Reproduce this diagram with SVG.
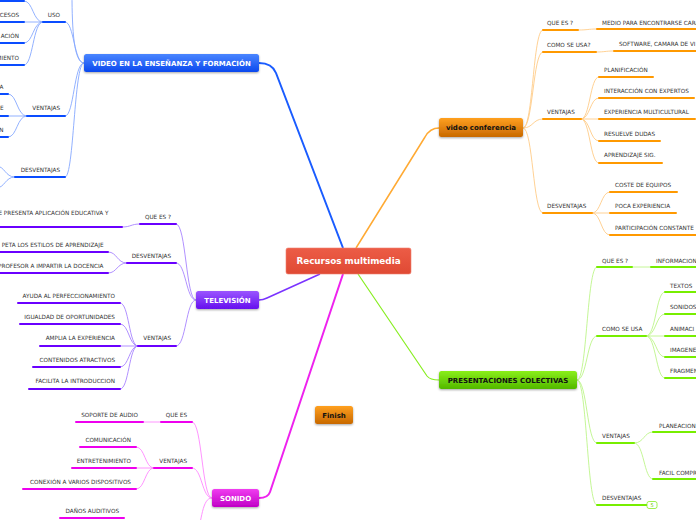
<svg xmlns="http://www.w3.org/2000/svg" width="696" height="520" viewBox="0 0 696 520">
<defs>
<linearGradient id="gBlue" x1="0" y1="0" x2="0" y2="1"><stop offset="0" stop-color="#4a86ff"/><stop offset="1" stop-color="#0c48ee"/></linearGradient>
<linearGradient id="gPurple" x1="0" y1="0" x2="0" y2="1"><stop offset="0" stop-color="#9a55ff"/><stop offset="1" stop-color="#6610ee"/></linearGradient>
<linearGradient id="gMag" x1="0" y1="0" x2="0" y2="1"><stop offset="0" stop-color="#f03ef0"/><stop offset="1" stop-color="#c000c6"/></linearGradient>
<linearGradient id="gGreen" x1="0" y1="0" x2="0" y2="1"><stop offset="0" stop-color="#8aef18"/><stop offset="1" stop-color="#52b800"/></linearGradient>
<linearGradient id="gOrange" x1="0" y1="0" x2="0" y2="1"><stop offset="0" stop-color="#ffa020"/><stop offset="1" stop-color="#c86800"/></linearGradient>
<linearGradient id="gRed" x1="0" y1="0" x2="0" y2="1"><stop offset="0" stop-color="#ec5c46"/><stop offset="1" stop-color="#e04a34"/></linearGradient>
<filter id="sh" x="-10%" y="-30%" width="120%" height="170%"><feDropShadow dx="0" dy="1" stdDeviation="0.8" flood-color="#000" flood-opacity="0.35"/></filter>
</defs>
<style>
.t{font-family:"DejaVu Sans","Liberation Sans",sans-serif;font-size:5.7px;fill:#333}
.e{text-anchor:end}
.n{font-family:"DejaVu Sans","Liberation Sans",sans-serif;font-weight:bold;font-size:7px;text-anchor:middle}
.w{fill:#fff}
.k{fill:#111}
.bar{fill:none;stroke-width:2;stroke-linecap:round}
.c{fill:none;stroke-width:0.9}
.bB{stroke:#0a4cff}.cB{stroke:#86a8ff}
.bO{stroke:#ff9900}.cO{stroke:#ffcc88}
.bP{stroke:#6a00ff}.cP{stroke:#a884ff}
.bM{stroke:#ee00ee}.cM{stroke:#ff88ff}
.bG{stroke:#77ee00}.cG{stroke:#bdf58a}
</style>
<rect width="696" height="520" fill="#fff"/>

<g id="connectors">
<path d="M259,63 Q272,63 276,73 L343,248" fill="none" stroke="#1a5cff" stroke-width="2"/>
<path d="M356,248 L425,137 Q430,128 439,128" fill="none" stroke="#ffaa33" stroke-width="1.5"/>
<path d="M320,274 L267,298 Q263,300 259,300" fill="none" stroke="#7a33ff" stroke-width="1.5"/>
<path d="M343,274 L270,492 Q268,498 259,498" fill="none" stroke="#ee22ee" stroke-width="2"/>
<path d="M358,274 L427,376 Q430,380 439,380" fill="none" stroke="#88ee22" stroke-width="1.2"/>

<path class="c cO" d="M523,128 C533,128 533,30 543,30"/>
<path class="c cO" d="M523,128 C533,128 533,52 543,52"/>
<path class="c cO" d="M523,128 C533,128 533,119 543,119"/>
<path class="c cO" d="M523,128 C533,128 533,213 543,213"/>
<path class="c cO" d="M578,30 C588,30 588,29 597,29"/>
<path class="c cO" d="M596,52 C605,52 605,51 614,51"/>
<path class="c cO" d="M581,119 C590,119 590,77 599,77"/>
<path class="c cO" d="M581,119 C590,119 590,98 599,98"/>
<path class="c cO" d="M581,119 L599,119"/>
<path class="c cO" d="M581,119 C590,119 590,141 599,141"/>
<path class="c cO" d="M581,119 C590,119 590,163 599,163"/>
<path class="c cO" d="M592,213 C601,213 601,192 610,192"/>
<path class="c cO" d="M592,213 L610,213"/>
<path class="c cO" d="M592,213 C601,213 601,235 610,235"/>

<path class="c cG" d="M577,380 C587,380 587,267 597,267"/>
<path class="c cG" d="M577,380 C587,380 587,336 597,336"/>
<path class="c cG" d="M577,380 C587,380 587,443 597,443"/>
<path class="c cG" d="M577,380 C587,380 587,505 597,505"/>
<path class="c cG" d="M632,267 L651,267"/>
<path class="c cG" d="M646,336 C656,336 656,292 665,292"/>
<path class="c cG" d="M646,336 C656,336 656,314 665,314"/>
<path class="c cG" d="M646,336 L665,336"/>
<path class="c cG" d="M646,336 C656,336 656,357 665,357"/>
<path class="c cG" d="M646,336 C656,336 656,378 665,378"/>
<path class="c cG" d="M634,443 C644,443 644,432 653,432"/>
<path class="c cG" d="M634,443 C644,443 644,479 653,479"/>

<path class="c cB" d="M84,63 C74,63 72,30 72,-6"/>
<path class="c cB" d="M84,63 C74,63 74,22 65,22"/>
<path class="c cB" d="M84,63 C74,63 74,116 65,116"/>
<path class="c cB" d="M84,63 C74,63 74,177 65,177"/>
<path class="c cB" d="M43,22 C33,22 33,1 24,1"/>
<path class="c cB" d="M43,22 L24,22"/>
<path class="c cB" d="M43,22 C33,22 33,43 24,43"/>
<path class="c cB" d="M43,22 C33,22 33,65 24,65"/>
<path class="c cB" d="M27,116 C17,116 17,94 8,94"/>
<path class="c cB" d="M27,116 L8,116"/>
<path class="c cB" d="M27,116 C17,116 17,137 8,137"/>
<path class="c cB" d="M15,177 C5,177 5,166 -4,166"/>
<path class="c cB" d="M15,177 C5,177 5,188 -4,188"/>

<path class="c cP" d="M196,300 C186,300 186,224 176,224"/>
<path class="c cP" d="M196,300 C186,300 186,263 176,263"/>
<path class="c cP" d="M196,300 C186,300 186,346 176,346"/>
<path class="c cP" d="M140,224 C131,224 131,227 122,227"/>
<path class="c cP" d="M127,263 C117,263 117,252 108,252"/>
<path class="c cP" d="M127,263 C117,263 117,273 108,273"/>
<path class="c cP" d="M138,346 C129,346 129,303 120,303"/>
<path class="c cP" d="M138,346 C129,346 129,324 120,324"/>
<path class="c cP" d="M138,346 L120,346"/>
<path class="c cP" d="M138,346 C129,346 129,367 120,367"/>
<path class="c cP" d="M138,346 C129,346 129,389 120,389"/>

<path class="c cM" d="M212,498 C202,498 202,422 192,422"/>
<path class="c cM" d="M212,498 C202,498 202,468 192,468"/>
<path class="c cM" d="M212,498 C202,498 202,520 196,540"/>
<path class="c cM" d="M161,422 L143,422"/>
<path class="c cM" d="M154,468 C145,468 145,447 136,447"/>
<path class="c cM" d="M154,468 L136,468"/>
<path class="c cM" d="M154,468 C145,468 145,489 136,489"/>
</g>

<g id="central">
<rect x="286" y="248" width="125" height="26" rx="2" fill="url(#gRed)" stroke="#f08070" stroke-width="0.6"/>
<text class="n w" x="348.5" y="264.3" style="font-size:8.8px">Recursos multimedia</text>
</g>

<g id="videoconf">
<rect x="439" y="118" width="84" height="19" rx="2.5" fill="url(#gOrange)" filter="url(#sh)"/>
<text class="n k" x="481" y="130.4">video conferencia</text>
</g>
<g id="vc-children">
<path class="bar bO" d="M543,30 H578 M597,29 H700 M543,52 H596 M614,51 H700 M543,119 H581 M599,77 H653 M599,98 H694 M599,119 H695 M599,141 H660 M599,163 H662 M543,213 H592 M610,192 H677 M610,213 H676 M610,235 H700"/>
<text class="t" x="547" y="24.5">QUE ES ?</text>
<text class="t" x="602" y="24.5">MEDIO PARA ENCONTRARSE CARA</text>
<text class="t" x="547" y="46.5">COMO SE USA?</text>
<text class="t" x="619" y="46">SOFTWARE, CAMARA DE VI</text>
<text class="t" x="547" y="114">VENTAJAS</text>
<text class="t" x="604" y="71.5">PLANIFICACIÓN</text>
<text class="t" x="604" y="92.5">INTERACCIÓN CON EXPERTOS</text>
<text class="t" x="604" y="114">EXPERIENCIA MULTICULTURAL</text>
<text class="t" x="604" y="135.5">RESUELVE DUDAS</text>
<text class="t" x="604" y="157">APRENDIZAJE SIG.</text>
<text class="t" x="547" y="207.5">DESVENTAJAS</text>
<text class="t" x="615" y="186.5">COSTE DE EQUIPOS</text>
<text class="t" x="615" y="207.5">POCA EXPERIENCIA</text>
<text class="t" x="615" y="229.5">PARTICIPACIÓN CONSTANTE</text>
</g>

<g id="presentaciones">
<rect x="439" y="371" width="138" height="18" rx="2.5" fill="url(#gGreen)" filter="url(#sh)"/>
<text class="n k" x="508" y="382.6">PRESENTACIONES COLECTIVAS</text>
</g>
<g id="pc-children">
<path class="bar bG" d="M597,267 H632 M651,267 H700 M597,336 H646 M665,292 H700 M665,314 H700 M665,336 H700 M665,357 H700 M665,378 H700 M597,443 H634 M653,432 H700 M653,479 H700 M597,505 H647"/>
<text class="t" x="602" y="262.5">QUE ES ?</text>
<text class="t" x="656" y="262.5">INFORMACION</text>
<text class="t" x="602" y="330.5">COMO SE USA</text>
<text class="t" x="670" y="287.5">TEXTOS</text>
<text class="t" x="670" y="308.5">SONIDOS</text>
<text class="t" x="670" y="330.5">ANIMACI</text>
<text class="t" x="670" y="351.5">IMAGENE</text>
<text class="t" x="670" y="373">FRAGMEN</text>
<text class="t" x="602" y="438">VENTAJAS</text>
<text class="t" x="659" y="427.5">PLANEACION</text>
<text class="t" x="659" y="474.5">FACIL COMPR</text>
<text class="t" x="602" y="499.5">DESVENTAJAS</text>
<rect x="647" y="501.5" width="10" height="7" rx="2" fill="#fff" stroke="#88ee22" stroke-width="0.8"/>
<text class="t" x="652" y="507" style="text-anchor:middle;fill:#66cc00;font-size:5px">5</text>
</g>

<g id="videoensenanza">
<rect x="84" y="54" width="175" height="18" rx="2.5" fill="url(#gBlue)" filter="url(#sh)"/>
<text class="n w" x="171.5" y="65.6">VIDEO EN LA ENSEÑANZA Y FORMACIÓN</text>
</g>
<g id="ve-children">
<path class="bar bB" d="M43,22 H65 M-5,1 H24 M-5,22 H24 M-5,43 H24 M-5,65 H24 M27,116 H65 M-5,94 H8 M-5,116 H8 M-5,137 H8 M15,177 H65"/>
<text class="t e" x="60" y="16.5">USO</text>
<text class="t e" x="19" y="16.5">CESOS</text>
<text class="t e" x="19" y="37.5">ACIÓN</text>
<text class="t e" x="19" y="59.5">MIENTO</text>
<text class="t e" x="60" y="110">VENTAJAS</text>
<text class="t e" x="3.5" y="88.5">A</text>
<text class="t e" x="3.5" y="110">E</text>
<text class="t e" x="3.5" y="131.5">N</text>
<text class="t e" x="60" y="171.5">DESVENTAJAS</text>
</g>

<g id="television">
<rect x="196" y="291" width="63" height="18" rx="2.5" fill="url(#gPurple)" filter="url(#sh)"/>
<text class="n w" x="227.5" y="302.6">TELEVISIÓN</text>
</g>
<g id="tv-children">
<path class="bar bP" d="M140,224 H176 M-5,227 H122 M127,263 H176 M-5,252 H108 M-5,273 H108 M138,346 H176 M18,303 H120 M20,324 H120 M40,346 H120 M33,367 H120 M29,389 H120"/>
<text class="t e" x="171" y="218.5">QUE ES ?</text>
<text class="t e" x="108.5" y="215">E PRESENTA APLICACIÓN EDUCATIVA Y</text>
<text class="t e" x="171" y="257.5">DESVENTAJAS</text>
<text class="t e" x="103.5" y="246.5">PETA LOS ESTILOS DE APRENDIZAJE</text>
<text class="t e" x="103.5" y="267.5">PROFESOR A IMPARTIR LA DOCENCIA</text>
<text class="t e" x="171" y="340">VENTAJAS</text>
<text class="t e" x="115" y="297.5">AYUDA AL PERFECCIONAMIENTO</text>
<text class="t e" x="115" y="319">IGUALDAD DE OPORTUNIDADES</text>
<text class="t e" x="115" y="340">AMPLIA LA EXPERIENCIA</text>
<text class="t e" x="115" y="362">CONTENIDOS ATRACTIVOS</text>
<text class="t e" x="115" y="383">FACILITA LA INTRODUCCION</text>
</g>

<g id="sonido">
<rect x="212" y="489" width="47" height="18" rx="2.5" fill="url(#gMag)" filter="url(#sh)"/>
<text class="n w" x="235.5" y="500.6">SONIDO</text>
</g>
<g id="so-children">
<path class="bar bM" d="M161,422 H192 M76,422 H143 M154,468 H192 M80,447 H136 M72,468 H136 M23,489 H136 M60,518 H124"/>
<text class="t e" x="187" y="416.5">QUE ES</text>
<text class="t e" x="138" y="416.5">SOPORTE DE AUDIO</text>
<text class="t e" x="187" y="462.5">VENTAJAS</text>
<text class="t e" x="131" y="441.5">COMUNICACIÓN</text>
<text class="t e" x="131" y="462.5">ENTRETENIMIENTO</text>
<text class="t e" x="131" y="483.5">CONEXIÓN A VARIOS DISPOSITIVOS</text>
<text class="t e" x="119" y="512.5">DAÑOS AUDITIVOS</text>
</g>

<g id="finish">
<rect x="315" y="406" width="38" height="18" rx="2.5" fill="url(#gOrange)" filter="url(#sh)"/>
<text class="n k" x="334" y="417.6">Finish</text>
</g>
</svg>
